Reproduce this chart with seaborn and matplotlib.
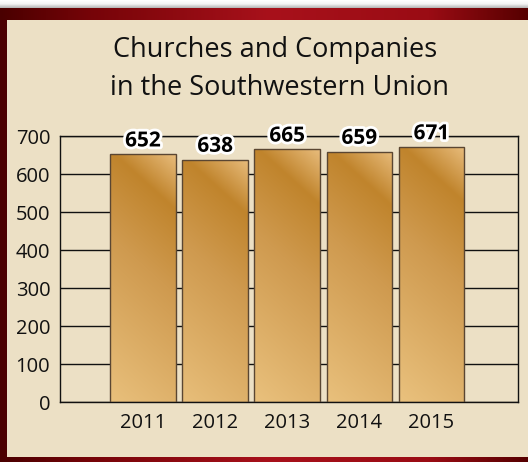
"""
Churches and Companies in the Southwestern Union - bar chart recreation.
"""

import matplotlib
matplotlib.use("Agg")
import matplotlib.pyplot as plt
import matplotlib.patheffects as pe
from matplotlib.colors import to_rgb
from matplotlib.patches import Rectangle
import numpy as np
import pandas as pd
import seaborn as sns

YEARS = ["2011", "2012", "2013", "2014", "2015"]
COUNTS = [652, 638, 665, 659, 671]
Y_TICKS = [0, 100, 200, 300, 400, 500, 600, 700]
TITLE_LINES = ["Churches and Companies", "in the Southwestern Union"]

W_PX, H_PX = 528, 462
BEIGE = "#ece0c5"
FONT = "Open Sans"


def interp_colors(s, stops):
    """Map scalar field s to RGB using (position, colour) stops."""
    pos = [p for p, _ in stops]
    cols = np.array([to_rgb(c) for _, c in stops])
    out = np.zeros(s.shape + (3,))
    for ch in range(3):
        out[..., ch] = np.interp(s, pos, cols[:, ch])
    return out


def draw_frame(fig):
    """Dark red frame, white top strip and beige panel."""
    bg = fig.add_axes([0, 0, 1, 1], zorder=-10)
    bg.set_xlim(0, W_PX)
    bg.set_ylim(H_PX, 0)
    bg.axis("off")

    xs = np.linspace(0, W_PX, 400)
    red = interp_colors(xs, [(0, "#4a0000"), (90, "#760408"), (270, "#a8111b"),
                             (430, "#9a0c14"), (528, "#560000")])
    bg.imshow(red[np.newaxis, :, :], extent=(0, W_PX, H_PX, 8), aspect="auto")

    ys = np.linspace(0, 8, 20)
    top = interp_colors(ys, [(0, "#ffffff"), (4, "#f4f4f4"), (8, "#b5b5b5")])
    bg.imshow(top[:, np.newaxis, :].repeat(2, axis=1), extent=(0, W_PX, 8, 0), aspect="auto")

    bg.add_patch(Rectangle((7, 20), W_PX - 7, 437, facecolor=BEIGE, edgecolor="none"))


def shade_bars(ax):
    """Replace flat bar fills with a diagonal golden gradient."""
    stops = [(0, "#e8bc7c"), (55, "#c0842c"), (140, "#cf9a4f"), (330, "#ecc582")]
    px_per_unit = ax.transData.transform((0, 100))[1] - ax.transData.transform((0, 0))[1]
    px_per_unit /= 100.0
    px_per_x = ax.transData.transform((1, 0))[0] - ax.transData.transform((0, 0))[0]
    for patch in list(ax.patches):
        x0, w, h = patch.get_x(), patch.get_width(), patch.get_height()
        wpx, hpx = w * px_per_x, h * px_per_unit
        X, Y = np.meshgrid(np.linspace(0, wpx, 80), np.linspace(0, hpx, 300))
        img = interp_colors(Y + 0.9 * (wpx - X), stops)
        im = ax.imshow(img, extent=(x0, x0 + w, 0, h), origin="upper",
                       aspect="auto", zorder=2, interpolation="bilinear")
        im.set_clip_path(patch)
        patch.set_facecolor("none")
        patch.set_edgecolor("#5a4632")
        patch.set_linewidth(1.0)
        patch.set_zorder(3)


def main():
    sns.set_theme(style="white")
    plt.rcParams["font.family"] = [FONT, "DejaVu Sans"]

    fig = plt.figure(figsize=(W_PX / 100, H_PX / 100), dpi=100)
    draw_frame(fig)

    ax = fig.add_axes([60 / W_PX, 60 / H_PX, 458 / W_PX, 266 / H_PX])
    ax.set_facecolor("none")

    df = pd.DataFrame({"year": YEARS, "count": COUNTS})
    sns.barplot(data=df, x="year", y="count", order=YEARS, width=0.91,
                color="#c8903c", ax=ax, zorder=2)

    ax.set_xlim(-1.15, 5.2)
    ax.set_ylim(0, 700)
    ax.set_yticks(Y_TICKS)
    ax.set_xlabel("")
    ax.set_ylabel("")
    ax.grid(axis="y", color="#111111", linewidth=1.0, zorder=1)
    ax.set_axisbelow(True)
    for sp in ax.spines.values():
        sp.set_visible(True)
        sp.set_color("#111111")
        sp.set_linewidth(1.0)
    ax.tick_params(axis="both", length=0, labelsize=14.5, labelcolor="#111111")
    ax.tick_params(axis="y", pad=7)
    ax.tick_params(axis="x", pad=8)

    shade_bars(ax)

    for container in ax.containers:
        labels = ax.bar_label(container, padding=2, fontsize=15, fontweight="bold",
                              color="black", zorder=5)
        for t in labels:
            t.set_path_effects([pe.withStroke(linewidth=4, foreground="white")])
            t.set_clip_on(False)

    fig.text(275 / W_PX, 1 - 50 / H_PX, TITLE_LINES[0], ha="center", va="center",
             fontsize=19.5, color="#111111")
    fig.text(279 / W_PX, 1 - 88 / H_PX, TITLE_LINES[1], ha="center", va="center",
             fontsize=19.5, color="#111111")

    fig.savefig("out.png", dpi=100)
    plt.close(fig)


if __name__ == "__main__":
    main()
